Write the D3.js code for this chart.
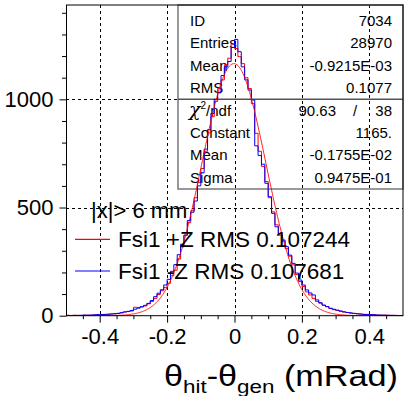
<!DOCTYPE html>
<html>
<head>
<meta charset="utf-8">
<script src="https://cdn.jsdelivr.net/npm/d3@7"></script>
<style>
  html, body { margin: 0; padding: 0; background: #fff; }
  svg { display: block; }
  text { font-family: "Liberation Sans", Arial, sans-serif; fill: #000; }
</style>
</head>
<body>
<svg id="chart" width="413" height="396"></svg>
<script>
// Histogram binning: 100 bins of width 0.01 over [-0.5, 0.5] mrad
const binLow = -0.5;
const binWidth = 0.01;

// Fsi1 +Z (red) bin contents
const countsPlusZ = [
  2, 1, 1, 2, 1, 2, 3, 2, 3, 4,
  5, 5, 6, 8, 9, 10, 13, 18, 19, 22,
  39, 38, 40, 45, 55, 66, 80, 98, 115, 130,
  150, 185, 210, 262, 318, 372, 430, 485, 545, 615,
  680, 760, 845, 920, 990, 1050, 1090, 1160, 1190, 1255,
  1235, 1197, 1165, 1100, 1050, 980, 843, 760, 690, 620,
  545, 480, 420, 372, 345, 310, 275, 235, 190, 158,
  135, 110, 96, 80, 66, 58, 48, 42, 34, 28,
  24, 20, 17, 15, 12, 10, 9, 7, 6, 5,
  5, 4, 3, 2, 3, 2, 1, 2, 1, 1
];

// Fsi1 -Z (blue) bin contents
const countsMinusZ = [
  1, 1, 2, 1, 2, 3, 2, 3, 4, 5,
  5, 6, 7, 8, 9, 11, 14, 17, 20, 24,
  30, 35, 42, 48, 57, 70, 88, 104, 120, 142,
  168, 205, 236, 282, 330, 372, 440, 478, 530, 600,
  660, 770, 860, 935, 1000, 1030, 1110, 1150, 1175, 1240,
  1277, 1220, 1150, 1090, 1043, 997, 785, 740, 700, 612,
  550, 473, 411, 380, 350, 319, 280, 242, 197, 165,
  142, 119, 105, 96, 73, 60, 49, 42, 34, 30,
  26, 22, 18, 15, 13, 11, 9, 8, 6, 6,
  5, 4, 3, 3, 2, 2, 2, 1, 1, 1
];

// Gaussian fit parameters (as listed in the statistics box)
const fitConstant = 1165;
const fitMean = -0.1755e-02;
const fitSigma = 0.9475e-01;

// Statistics box rows
const statLabels = ["ID", "Entries", "Mean", "RMS"];
const statValues = ["7034", "28970", "-0.9215E-03", "0.1077"];
const fitLabels = ["Constant", "Mean", "Sigma"];
const fitValues = ["1165.", "-0.1755E-02", "0.9475E-01"];
const chi2Value = "90.63";
const ndfValue = "38";

// Axis ticks
const xMajorTicks = [-0.4, -0.2, 0, 0.2, 0.4];
const xMinorTicks = [-0.45, -0.35, -0.3, -0.25, -0.15, -0.1, -0.05, 0.05, 0.1, 0.15, 0.25, 0.3, 0.35, 0.45];
const yMajorTicks = [0, 500, 1000];
const yMinorTicks = [100, 200, 300, 400, 600, 700, 800, 900, 1100, 1200, 1300, 1400];

// Legend
const legendHeader = "|x|> 6 mm";
const legendEntries = [
  { label: "Fsi1 +Z RMS 0.107244", color: "#ff0000" },
  { label: "Fsi1 -Z RMS 0.107681", color: "#0000ff" }
];

const svg = d3.select("#chart");
const frame = { left: 66, right: 403, top: 5, bottom: 315.7 };

const x = d3.scaleLinear().domain([-0.5, 0.5]).range([frame.left, frame.right]);
const y = d3.scaleLinear().domain([0, 1436]).range([frame.bottom, frame.top]);

svg.append("defs").append("clipPath").attr("id", "plotClip")
  .append("rect")
  .attr("x", frame.left).attr("y", frame.top)
  .attr("width", frame.right - frame.left).attr("height", frame.bottom - frame.top);

// Dashed grid at major ticks
const grid = svg.append("g").attr("stroke", "#000").attr("stroke-width", 1)
  .attr("stroke-dasharray", "3,3");
grid.selectAll("line.gx").data(xMajorTicks).join("line")
  .attr("x1", d => Math.round(x(d)) + 0.5).attr("x2", d => Math.round(x(d)) + 0.5)
  .attr("y1", frame.top).attr("y2", frame.bottom);
grid.selectAll("line.gy").data(yMajorTicks.filter(d => d > 0)).join("line")
  .attr("y1", d => Math.round(y(d)) + 0.5).attr("y2", d => Math.round(y(d)) + 0.5)
  .attr("x1", frame.left).attr("x2", frame.right);

// Statistics box (transparent, drawn beneath the histograms)
const box = { left: 178, right: 403, top: 5, bottom: 189, split: 99.3 };
const statG = svg.append("g");
statG.append("rect")
  .attr("x", box.left).attr("y", box.top)
  .attr("width", box.right - box.left).attr("height", box.bottom - box.top)
  .attr("fill", "none").attr("stroke", "#808080").attr("stroke-width", 1.6);
statG.append("line")
  .attr("x1", box.left).attr("x2", box.right)
  .attr("y1", box.split).attr("y2", box.split)
  .attr("stroke", "#555").attr("stroke-width", 1.4);

const rowPitch = 22.4;
const firstBaseline = 26;
const labelX = 190, valueX = 392;
const statFont = 15;

statLabels.forEach((lab, i) => {
  statG.append("text").attr("x", labelX).attr("y", firstBaseline + i * rowPitch)
    .attr("font-size", statFont).text(lab);
  statG.append("text").attr("x", valueX).attr("y", firstBaseline + i * rowPitch)
    .attr("font-size", statFont).attr("text-anchor", "end").text(statValues[i]);
});

const chiY = firstBaseline + 4 * rowPitch;
const chiText = statG.append("text").attr("x", labelX - 1).attr("y", chiY).attr("font-size", statFont);
chiText.append("tspan").attr("font-size", 19).attr("font-style", "italic")
  .attr("font-family", "DejaVu Serif, serif").text("χ");
chiText.append("tspan").attr("font-size", 10).attr("dy", -7).text("2");
chiText.append("tspan").attr("dy", 7).attr("font-size", statFont).text("/ndf");
statG.append("text").attr("x", 336).attr("y", chiY).attr("font-size", statFont)
  .attr("text-anchor", "end").text(chi2Value);
statG.append("text").attr("x", 355).attr("y", chiY).attr("font-size", statFont)
  .attr("text-anchor", "middle").text("/");
statG.append("text").attr("x", valueX).attr("y", chiY).attr("font-size", statFont)
  .attr("text-anchor", "end").text(ndfValue);

fitLabels.forEach((lab, i) => {
  const yy = firstBaseline + (5 + i) * rowPitch;
  statG.append("text").attr("x", labelX).attr("y", yy).attr("font-size", statFont).text(lab);
  statG.append("text").attr("x", valueX).attr("y", yy).attr("font-size", statFont)
    .attr("text-anchor", "end").text(fitValues[i]);
});

// Histograms as step lines
function stepPoints(counts) {
  const pts = counts.map((c, i) => [binLow + i * binWidth, c]);
  pts.push([binLow + counts.length * binWidth, counts[counts.length - 1]]);
  return pts;
}
const stepLine = d3.line().x(d => x(d[0])).y(d => y(d[1])).curve(d3.curveStepAfter);

const plot = svg.append("g").attr("clip-path", "url(#plotClip)");
plot.append("path").datum(stepPoints(countsPlusZ))
  .attr("d", stepLine).attr("fill", "none").attr("stroke", "#ff0000").attr("stroke-width", 1);
plot.append("path").datum(stepPoints(countsMinusZ))
  .attr("d", stepLine).attr("fill", "none").attr("stroke", "#0000ff").attr("stroke-width", 1);

// Gaussian fit curve
const gaus = v => fitConstant * Math.exp(-0.5 * Math.pow((v - fitMean) / fitSigma, 2));
const fitPts = d3.range(-0.5, 0.5001, 0.0025).map(v => [v, gaus(v)]);
plot.append("path").datum(fitPts)
  .attr("d", d3.line().x(d => x(d[0])).y(d => y(d[1])).curve(d3.curveLinear))
  .attr("fill", "none").attr("stroke", "#ff0000").attr("stroke-width", 1).attr("opacity", 0.85);

// Frame
svg.append("rect")
  .attr("x", frame.left + 0.5).attr("y", frame.top)
  .attr("width", frame.right - frame.left - 0.5).attr("height", frame.bottom - frame.top)
  .attr("fill", "none").attr("stroke", "#000").attr("stroke-width", 1);

// Axes
const fmtX = d => d === 0 ? "0" : d.toFixed(1);
const xAxisMajor = d3.axisBottom(x).tickValues(xMajorTicks).tickSize(7).tickPadding(5).tickFormat(fmtX);
const xAxisMinor = d3.axisBottom(x).tickValues(xMinorTicks).tickSize(3.5).tickFormat("");
const yAxisMajor = d3.axisLeft(y).tickValues(yMajorTicks).tickSize(7).tickPadding(6).tickFormat(d3.format("d"));
const yAxisMinor = d3.axisLeft(y).tickValues(yMinorTicks).tickSize(4.5).tickFormat("");

function styleAxis(g) {
  g.select(".domain").remove();
  g.selectAll(".tick line").attr("stroke", "#000");
  g.selectAll(".tick text").attr("font-family", "Liberation Sans, Arial, sans-serif")
    .attr("font-size", 22).attr("fill", "#000");
}
svg.append("g").attr("transform", `translate(0,${frame.bottom})`).call(xAxisMinor).call(styleAxis);
svg.append("g").attr("transform", `translate(0,${frame.bottom})`).call(xAxisMajor).call(styleAxis)
  .selectAll(".tick text").attr("dy", "0.71em").attr("y", 13);
svg.append("g").attr("transform", `translate(${frame.left + 0.5},0)`).call(yAxisMinor).call(styleAxis);
svg.append("g").attr("transform", `translate(${frame.left + 0.5},0)`).call(yAxisMajor).call(styleAxis)
  .selectAll(".tick text").attr("x", -13);

// Axis title (wide glyphs, anchored at its right end)
const title = svg.append("text")
  .attr("transform", "translate(398,386) scale(1.18,1)")
  .attr("text-anchor", "end").attr("font-size", 29);
title.append("tspan").text("θ");
title.append("tspan").attr("font-size", 19).attr("dy", 7).text("hit");
title.append("tspan").attr("dy", -7).text("-θ");
title.append("tspan").attr("font-size", 19).attr("dy", 7).text("gen");
title.append("tspan").attr("dy", -7).text(" (mRad)");

// Legend
const legend = svg.append("g");
legend.append("text").attr("x", 91).attr("y", 218).attr("font-size", 22).text(legendHeader);
legendEntries.forEach((e, i) => {
  const cy = 239.3 + i * 31.7;
  legend.append("line").attr("x1", 75).attr("x2", 110).attr("y1", cy).attr("y2", cy)
    .attr("stroke", e.color).attr("stroke-width", 1.2);
  legend.append("text").attr("x", 118).attr("y", cy + 8).attr("font-size", 22.5).text(e.label);
});
</script>
</body>
</html>
